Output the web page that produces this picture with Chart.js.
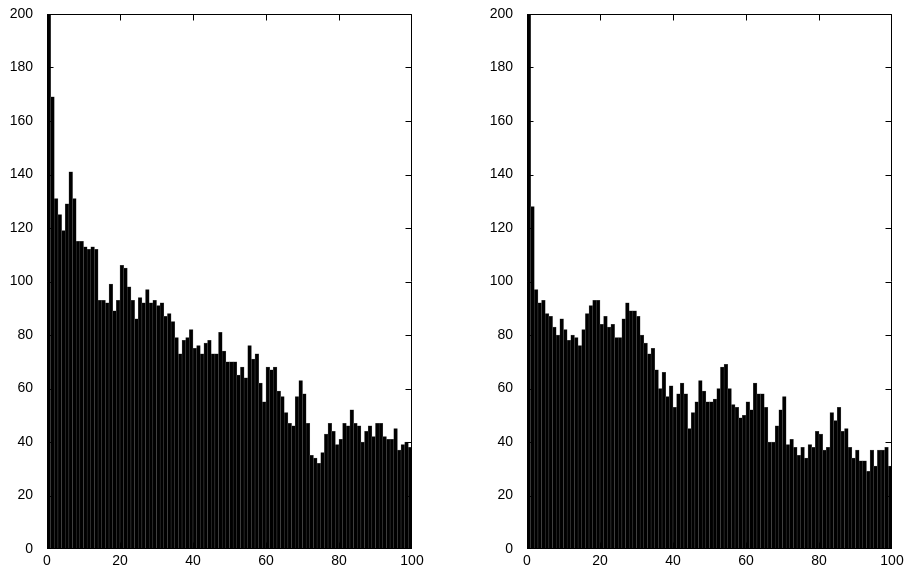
<!DOCTYPE html>
<html>
<head>
<meta charset="utf-8">
<script src="https://cdn.jsdelivr.net/npm/chart.js@4"></script>
<style>
  html, body { margin: 0; padding: 0; background: #fff; }
  .pane { position: absolute; top: 0; width: 454px; height: 570px; }
</style>
</head>
<body>
<div class="pane" style="left:0"><canvas id="histLeft"></canvas></div>
<div class="pane" style="left:454px"><canvas id="histRight"></canvas></div>
<script>
// bin counts, 100 bins over 0..100 (first bin is clipped by the 200 limit)
const leftCounts = [
  230, 169, 131, 125, 119, 129, 141, 131, 115, 115,
  113, 112, 113, 112, 93, 93, 92, 99, 89, 93,
  106, 105, 98, 93, 86, 94, 92, 97, 92, 93,
  91, 92, 87, 88, 85, 79, 73, 78, 79, 82,
  75, 76, 73, 77, 78, 73, 73, 81, 74, 70,
  70, 70, 65, 68, 64, 76, 71, 73, 62, 55,
  68, 67, 68, 59, 57, 51, 47, 46, 57, 63,
  58, 47, 35, 34, 32, 36, 43, 47, 44, 39,
  41, 47, 46, 52, 47, 46, 40, 44, 46, 42,
  47, 47, 42, 41, 41, 45, 37, 39, 40, 38
];
const rightCounts = [
  240, 128, 97, 92, 93, 88, 87, 83, 80, 86,
  82, 78, 80, 79, 76, 82, 88, 91, 93, 93,
  84, 87, 83, 84, 79, 79, 86, 92, 89, 89,
  87, 80, 77, 73, 75, 67, 60, 66, 57, 61,
  53, 58, 62, 58, 45, 51, 55, 63, 59, 55,
  55, 56, 60, 68, 69, 60, 54, 53, 49, 50,
  55, 52, 62, 58, 58, 53, 40, 40, 46, 52,
  57, 39, 41, 38, 35, 38, 34, 39, 38, 44,
  43, 37, 38, 51, 48, 53, 44, 45, 38, 34,
  37, 33, 33, 29, 37, 31, 37, 37, 38, 31
];
const xTicks = [0, 20, 40, 60, 80, 100];
const yTicks = [0, 20, 40, 60, 80, 100, 120, 140, 160, 180, 200];

const binCenters = leftCounts.map((_, i) => i + 0.5);
const tickFont = { family: "'Liberation Sans', Arial, Helvetica, sans-serif", size: 14 };

// matlab-like box with inward ticks on all four sides
const boxTicks = {
  id: 'boxTicks',
  afterDraw(chart) {
    const ctx = chart.ctx, a = chart.chartArea;
    const xs = chart.scales.x, ys = chart.scales.y;
    const len = 6;
    const xL = Math.round(a.left) + 0.5, xR = Math.round(a.right) - 0.5;
    const yT = Math.round(a.top) + 0.5, yB = Math.round(a.bottom) - 0.5;
    const clamp = (v, lo, hi) => Math.min(hi, Math.max(lo, v));
    ctx.save();
    ctx.strokeStyle = '#000';
    ctx.lineWidth = 1;
    ctx.beginPath();
    xTicks.forEach(v => {
      const px = clamp(Math.round(xs.getPixelForValue(v)) + 0.5, xL, xR);
      ctx.moveTo(px, yT); ctx.lineTo(px, yT + len);
      ctx.moveTo(px, yB); ctx.lineTo(px, yB - len);
    });
    yTicks.forEach(v => {
      const py = clamp(Math.round(ys.getPixelForValue(v)) + 0.5, yT, yB);
      ctx.moveTo(xL, py); ctx.lineTo(xL + len, py);
      ctx.moveTo(xR, py); ctx.lineTo(xR - len, py);
    });
    ctx.moveTo(xL, yT); ctx.lineTo(xR, yT); ctx.lineTo(xR, yB);
    ctx.lineTo(xL, yB); ctx.closePath();
    ctx.stroke();
    ctx.restore();
  }
};

function makeHist(id, counts, yAxisWidth, padRight) {
  return new Chart(document.getElementById(id), {
    type: 'bar',
    data: {
      datasets: [{
        data: counts.map((c, i) => ({ x: binCenters[i], y: c })),
        backgroundColor: '#000',
        borderColor: '#555',
        borderWidth: 0.5,
        barPercentage: 1,
        categoryPercentage: 1
      }]
    },
    options: {
      responsive: true,
      maintainAspectRatio: false,
      animation: false,
      layout: { padding: { top: 14, right: padRight, left: 0, bottom: 0 } },
      plugins: { legend: { display: false }, tooltip: { enabled: false } },
      scales: {
        x: {
          type: 'linear', min: 0, max: 100, offset: false,
          grid: { display: false, drawTicks: false },
          border: { display: false },
          afterBuildTicks: s => { s.ticks = xTicks.map(v => ({ value: v })); },
          afterFit: s => { s.height = 21; s.paddingLeft = 0; s.paddingRight = 0; },
          ticks: { color: '#000', font: tickFont, padding: 4, maxRotation: 0 }
        },
        y: {
          min: 0, max: 200,
          grid: { display: false, drawTicks: false },
          border: { display: false },
          afterBuildTicks: s => { s.ticks = yTicks.map(v => ({ value: v })); },
          afterFit: s => { s.width = yAxisWidth; s.paddingTop = 0; s.paddingBottom = 0; },
          ticks: { color: '#000', font: tickFont, padding: 14 }
        }
      }
    },
    plugins: [boxTicks]
  });
}

makeHist('histLeft', leftCounts, 47, 42);
makeHist('histRight', rightCounts, 73, 16);
</script>
</body>
</html>
